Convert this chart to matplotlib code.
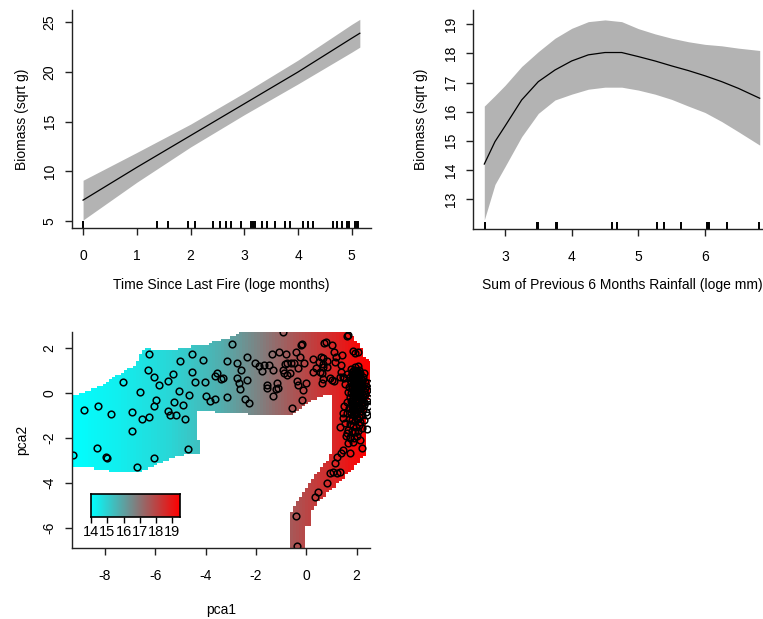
import matplotlib
matplotlib.use("Agg")
import matplotlib.pyplot as plt
import numpy as np
from matplotlib.path import Path
from matplotlib.colors import LinearSegmentedColormap

plt.rcParams['font.family'] = ['Liberation Sans', 'DejaVu Sans']
plt.rcParams['axes.unicode_minus'] = False

# --- panel 1: time since last fire ---
fire_x = [0, 1, 2, 3, 4, 5, 5.15]
fire_fit = [7.1, 10.4, 13.6, 16.8, 20.0, 23.4, 23.9]
fire_se = [2.0, 1.5, 1.15, 1.1, 1.2, 1.4, 1.4]
fire_rug = [0, 1.375, 1.58, 1.95, 2.09, 2.41, 2.55, 2.66, 2.76, 2.94, 3.13, 3.16,
            3.20, 3.33, 3.43, 3.57, 3.76, 3.85, 4.09, 4.19, 4.28, 4.66, 4.72,
            4.81, 4.91, 4.94, 5.06, 5.09, 5.12]

# --- panel 2: rainfall ---
rain_x = [2.69, 2.85, 3.0, 3.25, 3.5, 3.75, 4.0, 4.25, 4.5, 4.75, 5.0, 5.25,
          5.5, 5.75, 6.0, 6.25, 6.5, 6.82]
rain_fit = [14.2, 14.97, 15.5, 16.4, 17.03, 17.43, 17.74, 17.95, 18.03, 18.03,
            17.89, 17.74, 17.57, 17.41, 17.23, 17.03, 16.8, 16.46]
rain_hi = [16.19, 16.55, 16.9, 17.55, 18.06, 18.52, 18.86, 19.09, 19.15, 19.09,
           18.85, 18.67, 18.52, 18.4, 18.31, 18.26, 18.18, 18.1]
rain_lo = [12.28, 13.5, 14.11, 15.14, 15.94, 16.4, 16.6, 16.77, 16.84, 16.84,
           16.74, 16.6, 16.42, 16.19, 15.97, 15.66, 15.31, 14.85]
rain_rug = [2.70, 3.485, 3.50, 3.76, 3.775, 4.60, 4.675, 5.275, 5.385, 5.64,
            6.025, 6.04, 6.065, 6.325, 6.815]

# --- panel 3: pca surface ---
bound_x = [-9.4, -8.2, -7.55, -6.76, -6.49, -6.36, -5.43, -4.90, -3.91, -3.63,
           -3.10, -2.31, 1.60, 1.80, 2.20, 2.33, 2.6, 2.6, 2.40, 2.40, 2.26,
           1.93, 1.60, 1.14, 0.74, 0.34, 0.21, 0.21, 0.01, 0.01, -0.65, -0.58,
           -0.45, -0.19, 0.14, 0.34, 0.61, 0.87, 1.07, 1.07, 0.47, 0.21, -0.12,
           -0.38, -0.58, -2.31, -3.63, -4.37, -4.37, -4.20, -4.20, -4.90, -5.50,
           -5.89, -6.56, -7.61, -8.15, -9.07, -9.4]
bound_y = [-0.21, 0.30, 0.75, 1.26, 1.85, 1.97, 1.85, 2.0, 2.15, 2.30,
           2.43, 2.8, 2.8, 2.52, 2.0, 1.53, 1.3, -0.2, -0.32, -2.75, -2.8,
           -3.24, -3.61, -4.12, -4.57, -5.01, -5.38, -5.9, -5.9, -7.0, -7.0, -5.31,
           -5.01, -4.57, -3.98, -3.68, -3.31, -2.94, -2.59, -0.05, -0.21, -0.36, -0.58,
           -0.88, -1.02, -0.95, -0.85, -0.80, -1.99, -2.21, -2.65, -2.77, -2.97,
           -3.16, -3.46, -3.5, -3.39, -3.27, -3.25]
field_x = [-9.4, -7.4, -5.4, -3.4, -2.0, -0.8, 0.5, 1.9, 2.6]
field_val = [13.96, 14.35, 14.85, 15.72, 16.6, 17.43, 18.25, 19.18, 19.47]
cbar_ticks = [14, 15, 16, 17, 18, 19]

pca1 = [-9.28, -8.83, -8.29, -7.77, -8.33, -7.96, -7.93, -7.27, -6.93, -6.91, -6.61, -6.54,
        -6.73, -6.26, -6.28, -6.07, -6.24, -6.04, -5.99, -5.85, -6.04, -5.48, -5.48, -5.30,
        -5.43, -5.25, -5.18, -5.02, -5.06, -4.89, -4.81, -4.69, -4.66, -4.54, -4.54, -4.42,
        -4.09, -4.03, -3.99, -3.83, -3.63, -3.63, -3.55, -3.38, -3.32, -3.14, -3.17, -2.97,
        -2.77, -2.74, -2.66, -2.64, -2.61, -2.44, -2.37, -2.34, -2.28, -2.04, -1.87, -1.76,
        -1.67, -1.58, -1.56, -1.47, -1.38, -1.34, -1.31, -1.19, -1.13, -1.18, -1.07, -0.91,
        -0.94, -0.87, -0.85, -0.82, -0.78, -0.65, -0.75, -0.60, -0.49, -0.42, -0.38, -0.34,
        -0.25, -0.32, -0.19, -0.23, -0.16, -0.09, -0.13, -0.01, -0.58,
        0.28, 0.28, 0.37, 0.49, 0.54, 0.57, 0.62, 0.68, 0.70, 0.78, 0.83, 1.03, 1.03, 1.14,
        1.10, 1.36, 1.43, 1.46, 1.50, 1.60, 1.67, 1.84, 1.93, 2.04, 0.65, 0.81, 1.18, 0.67,
        0.61, 0.65, 0.94, 1.10, 1.34, 1.38,
        1.34, 1.47, 1.60, 1.67, 1.74, 1.44, 1.36, 1.21, 1.14, 1.07, 1.21, 1.34, 0.94, 0.81,
        0.48, 0.34, -0.41, -0.36, 2.20, 1.74,
        1.78, 1.85, 1.92, 2.00, 2.08, 1.80, 1.88, 1.95, 2.05, 2.15, 2.25, 1.75, 1.83, 1.90,
        1.98, 2.10, 2.20, 2.32, 1.78, 1.86, 1.94, 2.02, 2.12, 2.22, 2.38, 1.70, 1.82, 1.90,
        2.00, 2.08, 2.18, 2.28, 2.42, 1.65, 1.78, 1.88, 1.96, 2.05, 2.15, 2.25, 2.35, 1.72,
        1.84, 1.92, 2.02, 2.12, 2.22, 2.40, 1.60, 1.80, 1.90, 1.98, 2.08, 2.18, 2.30, 1.70,
        1.85, 1.95, 2.05, 2.15, 2.25, 2.38, 1.62, 1.78, 1.88, 1.98, 2.10, 2.20, 1.70, 1.82,
        1.92, 2.02, 2.14, 2.28, 1.55, 1.75, 1.86, 1.96, 2.08, 2.22, 1.65, 1.80, 1.92, 2.05,
        2.40, 1.58, 1.72, 1.88, 2.00, 1.85, 2.15, 1.45, 1.50, 1.55, 1.62, 1.95, 2.05, 2.30,
        2.45, 2.42,
        1.82, 1.90, 1.98, 2.06, 2.14, 1.86, 1.94, 2.02, 2.10, 2.18, 1.80, 1.88, 1.96, 2.04,
        2.12, 2.20, 1.84, 1.92, 2.00, 2.08, 2.16, 1.78, 1.86, 1.94, 2.02, 2.10, 1.82, 1.90,
        1.98, 2.06, 2.14, 2.22, 1.76, 1.84, 1.92, 2.00, 2.30, 2.35, 2.44, 2.46]
pca2 = [-2.75, -0.76, -0.58, -0.95, -2.46, -2.83, -2.87, 0.46, -0.83, -1.69, 0.02, -1.17,
        -3.30, 1.70, 1.01, 0.72, -1.08, -0.58, -0.32, 0.35, -2.87, 0.52, -0.79, 0.82,
        -1.00, -0.41, -0.98, 1.42, 0.08, -0.55, -1.17, -2.50, -0.08, 1.70, 0.91, 0.48,
        1.45, 0.46, -0.13, -0.35, -0.29, 0.75, 0.86, 0.63, 0.66, 1.42, -0.18, 2.18,
        1.34, 0.66, 0.42, 0.15, 1.01, -0.29, 0.57, 1.60, -0.45, 1.31, 1.19, 0.98,
        1.23, 0.20, 0.33, 1.25, 1.73, 1.01, -0.14, 0.18, 0.21, 0.45, 1.82, 2.68,
        1.01, 0.86, 1.28, 1.72, 1.34, 0.89, 0.79, 1.34, 1.34, 1.82, 0.52, 0.33,
        1.57, 1.08, -0.32, 2.12, 2.16, 1.31, 0.13, 0.45, -0.69,
        1.48, 0.94, 1.08, 1.38, 0.94, 1.60, 0.45, 1.28, 2.19, 2.27, 1.16, 0.57, 2.12, 1.38,
        1.82, 1.23, 1.68, 0.72, 0.64, 2.52, 2.56, 1.85, 1.75, 1.82, 1.53, 1.43, 1.60, 1.13,
        0.87, 0.60, 0.64, 0.54, 0.72, 0.94,
        -1.50, -0.88, -1.79, -2.24, -2.01, -2.53, -2.65, -2.83, -3.12, -3.49, -3.56, -3.49, -3.56, -4.01,
        -4.38, -4.60, -5.48, -6.81, -2.46, -2.68,
        1.05, 0.98, 1.02, 0.95, 1.00, 0.85, 0.80, 0.88, 0.82, 0.78, 0.72, 0.70, 0.62, 0.68,
        0.60, 0.64, 0.55, 0.50, 0.45, 0.40, 0.48, 0.42, 0.38, 0.35, 0.30, 0.25, 0.22, 0.18,
        0.25, 0.15, 0.20, 0.10, 0.12, 0.05, 0.00, -0.05, 0.02, -0.08, -0.02, -0.10, -0.05, -0.20,
        -0.25, -0.18, -0.28, -0.22, -0.30, -0.35, -0.40, -0.45, -0.50, -0.42, -0.55, -0.48, -0.55, -0.65,
        -0.70, -0.75, -0.68, -0.80, -0.72, -0.85, -0.90, -0.95, -1.00, -0.92, -1.05, -0.98, -1.15, -1.20,
        -1.25, -1.18, -1.30, -1.22, -1.35, -1.40, -1.45, -1.50, -1.42, -1.55, -1.65, -1.70, -1.75, -1.68,
        -1.62, -1.90, -1.95, -2.00, -1.92, -2.20, -2.10, -1.10, -0.60, 0.40, 0.85, 1.15, 1.20, 0.90,
        -0.25, -1.00,
        0.92, 0.90, 0.75, 0.72, 0.88, 0.55, 0.52, 0.50, 0.46, 0.62, 0.30, 0.32, 0.35, 0.28,
        0.05, 0.30, 0.08, -0.10, -0.12, 0.05, -0.15, -0.35, -0.38, -0.32, -0.40, -0.38, -0.60, -0.62,
        -0.58, -0.62, -0.65, -0.60, -0.85, -0.82, -0.88, -1.10, -0.40, 0.20, 0.45, -0.60]

W, H = 763, 619
fig = plt.figure(figsize=(W / 100, H / 100), dpi=100)


def r_style(ax):
    for s in ['top', 'right']:
        ax.spines[s].set_visible(False)
    for s in ['left', 'bottom']:
        ax.spines[s].set_color('#222222')
        ax.spines[s].set_linewidth(1)
    ax.tick_params(direction='out', length=5, width=1, color='#222222', labelsize=10)
    ax.tick_params(axis='x', pad=10)
    ax.tick_params(axis='y', pad=6, labelrotation=90)
    for lab in ax.get_yticklabels():
        lab.set_va('center')


# panel 1
ax1 = fig.add_axes([72 / W, 1 - 228 / H, 298.9 / W, 218 / H])
lo1 = np.array(fire_fit) - np.array(fire_se)
hi1 = np.array(fire_fit) + np.array(fire_se)
ax1.fill_between(fire_x, lo1, hi1, color='#B3B3B3', lw=0)
ax1.plot(fire_x, fire_fit, color='black', lw=0.9)
ax1.vlines(fire_rug, 0, 0.03, color='black', lw=1.4, transform=ax1.get_xaxis_transform())
ax1.set_xlim(-0.206, 5.356)
ax1.set_ylim(4.295, 26.24)
ax1.set_xticks([0, 1, 2, 3, 4, 5])
ax1.set_yticks([5, 10, 15, 20, 25])
r_style(ax1)
ax1.set_xlabel("Time Since Last Fire (loge months)", fontsize=10)
ax1.set_ylabel("Biomass (sqrt g)", fontsize=10)
ax1.xaxis.set_label_coords(0.5, -0.261)
ax1.xaxis.label.set_va('center')
ax1.yaxis.set_label_coords(-0.168, 0.5)
ax1.yaxis.label.set_va('center')

# panel 2
ax2 = fig.add_axes([473.3 / W, 1 - 229 / H, 297.4 / W, 219 / H])
ax2.fill_between(rain_x, rain_lo, rain_hi, color='#B3B3B3', lw=0)
ax2.plot(rain_x, rain_fit, color='black', lw=0.9)
ax2.vlines(rain_rug, 0, 0.03, color='black', lw=1.4, transform=ax2.get_xaxis_transform())
ax2.set_xlim(2.525, 6.985)
ax2.set_ylim(11.97, 19.49)
ax2.set_xticks([3, 4, 5, 6])
ax2.set_yticks([13, 14, 15, 16, 17, 18, 19])
r_style(ax2)
ax2.set_xlabel("Sum of Previous 6 Months Rainfall (loge mm)", fontsize=10)
ax2.set_ylabel("Biomass (sqrt g)", fontsize=10)
ax2.xaxis.set_label_coords(0.5, -0.257)
ax2.xaxis.label.set_va('center')
ax2.yaxis.set_label_coords(-0.175, 0.5)
ax2.yaxis.label.set_va('center')

# panel 3
cmap = LinearSegmentedColormap.from_list('cyanred', ['#00FFFF', '#FF0000'])
vmin, vmax = field_val[0], field_val[-1]
ax3 = fig.add_axes([71.7 / W, 1 - 548.3 / H, 298.3 / W, 216.6 / H])
gx = np.arange(-9.4, 2.65, 0.12)
gy = np.arange(-7.0, 2.85, 0.1)
cx = (gx[:-1] + gx[1:]) / 2
cy = (gy[:-1] + gy[1:]) / 2
CX, CY = np.meshgrid(cx, cy)
Z = np.interp(CX, field_x, field_val)
inside = Path(np.column_stack([bound_x, bound_y])).contains_points(
    np.column_stack([CX.ravel(), CY.ravel()])).reshape(CX.shape)
Z = np.ma.masked_where(~inside, Z)
ax3.pcolormesh(gx, gy, Z, cmap=cmap, vmin=vmin, vmax=vmax, shading='flat')
ax3.plot(pca1, pca2, 'o', mfc='none', mec='black', ms=4.8, mew=1.1)
ax3.set_xlim(-9.32, 2.53)
ax3.set_ylim(-6.89, 2.71)
ax3.set_xticks([-8, -6, -4, -2, 0, 2])
ax3.set_yticks([-6, -4, -2, 0, 2])
r_style(ax3)
ax3.set_xlabel("pca1", fontsize=10)
ax3.set_ylabel("pca2", fontsize=10)
ax3.xaxis.set_label_coords(0.5, -0.285)
ax3.xaxis.label.set_va('center')
ax3.yaxis.set_label_coords(-0.165, 0.5)
ax3.yaxis.label.set_va('center')

# colour key
axc = fig.add_axes([90.7 / W, 1 - 517 / H, 89 / W, 22.7 / H])
axc.imshow(np.linspace(vmin, vmax, 256)[None, :], aspect='auto', cmap=cmap,
           extent=[vmin, vmax, 0, 1], vmin=vmin, vmax=vmax)
axc.set_xlim(vmin, vmax)
axc.set_yticks([])
axc.set_xticks(cbar_ticks)
axc.tick_params(axis='x', direction='out', length=4, width=1, pad=2, labelsize=10.5)
for s in axc.spines.values():
    s.set_color('black')
    s.set_linewidth(1.2)

fig.savefig("out.png", dpi=100)
